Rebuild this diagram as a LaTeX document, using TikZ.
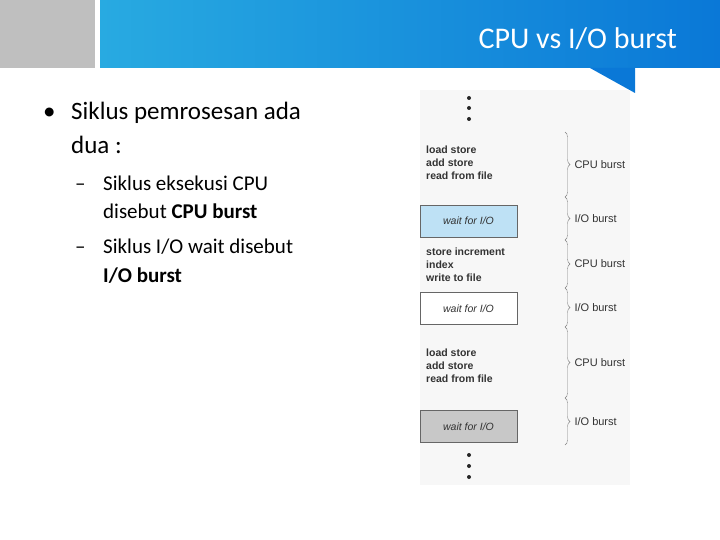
\documentclass[tikz,border=0pt]{standalone}
\usepackage{fontspec}
\setmainfont{Carlito}
\newfontfamily\diagfont{Liberation Sans}
\usetikzlibrary{decorations.pathreplacing}
\definecolor{bannerA}{RGB}{40,170,225}
\definecolor{bannerB}{RGB}{10,120,215}
\definecolor{waitblue}{RGB}{190,225,245}
\definecolor{waitgrey}{RGB}{200,200,200}
\begin{document}
\begin{tikzpicture}[x=1pt,y=-1pt,
    instr/.style={anchor=north west,align=left,font=\diagfont\fontsize{10.5}{13}\selectfont\bfseries,inner sep=0pt,text=black!80},
    waitbox/.style={draw=black!60,minimum width=97pt,minimum height=32pt,font=\diagfont\fontsize{10.5}{13}\selectfont\itshape,inner sep=0pt,text=black!80},
    burst/.style={anchor=west,font=\diagfont\fontsize{11}{13}\selectfont,text=black!80},
    brace/.style={draw=black!50,decorate,decoration={brace,amplitude=5pt}},
    lvone/.style={anchor=west,font=\fontsize{25}{34}\selectfont,inner sep=0pt,align=left},
    lvtwo/.style={anchor=west,font=\fontsize{21}{28}\selectfont,inner sep=0pt,align=left}]
  \useasboundingbox (0,0) rectangle (720,540);
  % banner
  \fill[black!25] (0,0) rectangle (95,68);
  \shade[left color=bannerA,right color=bannerB] (100,0) rectangle (720,68);
  \fill[bannerB] (590,68) -- (635,68) -- (635,93) -- cycle;
  \node[anchor=east,text=white,font=\fontsize{30}{34}\selectfont,inner sep=0pt] (title) at (677,39) {CPU vs I/O burst};
  % bullets
  \node[lvone] (d1) at (43,113) {\strut•};
  \node[lvone] (b1) at (71,113) {\strut Siklus pemrosesan ada};
  \node[lvone] (b1b) at (71,147) {\strut dua :};
  \node[lvtwo] (d2) at (75,185) {\strut–};
  \node[lvtwo] (b2) at (103,185) {\strut Siklus eksekusi CPU};
  \node[lvtwo] (b2b) at (103,213) {\strut disebut \textbf{CPU burst}};
  \node[lvtwo] (d3) at (75,248) {\strut–};
  \node[lvtwo] (b3) at (103,248) {\strut Siklus I/O wait disebut};
  \node[lvtwo] (b3b) at (103,277) {\strut\textbf{I/O burst}};
  % diagram
  \fill[black!3] (420,90) rectangle (630,485);
  \foreach \y in {98,108,119,455,466,477} \fill[black!85] (469,\y) circle (2pt);
  \node[instr] (i1) at (426,146) {load store\\add store\\read from file};
  \node[waitbox,fill=waitblue] (w1) at (468.5,221) {wait for I/O};
  \node[instr] (i2) at (426,248) {store increment\\index\\write to file};
  \node[waitbox,fill=white] (w2) at (468.5,308.5) {wait for I/O};
  \node[instr] (i3) at (426,349) {load store\\add store\\read from file};
  \node[waitbox,fill=waitgrey] (w3) at (468.5,426.5) {wait for I/O};
  \coordinate (c0) at (565,132);
  \coordinate (c1) at (565,197);
  \coordinate (c2) at (565,240);
  \coordinate (c3) at (565,288);
  \coordinate (c4) at (565,327);
  \coordinate (c5) at (565,398);
  \coordinate (c6) at (565,445);
  \draw[brace] (c0) -- (c1) node[burst,midway,xshift=6pt] (l1) {CPU burst};
  \draw[brace] (c1) -- (c2) node[burst,midway,xshift=6pt] (l2) {I/O burst};
  \draw[brace] (c2) -- (c3) node[burst,midway,xshift=6pt] (l3) {CPU burst};
  \draw[brace] (c3) -- (c4) node[burst,midway,xshift=6pt] (l4) {I/O burst};
  \draw[brace] (c4) -- (c5) node[burst,midway,xshift=6pt] (l5) {CPU burst};
  \draw[brace] (c5) -- (c6) node[burst,midway,xshift=6pt] (l6) {I/O burst};
\end{tikzpicture}
\end{document}
